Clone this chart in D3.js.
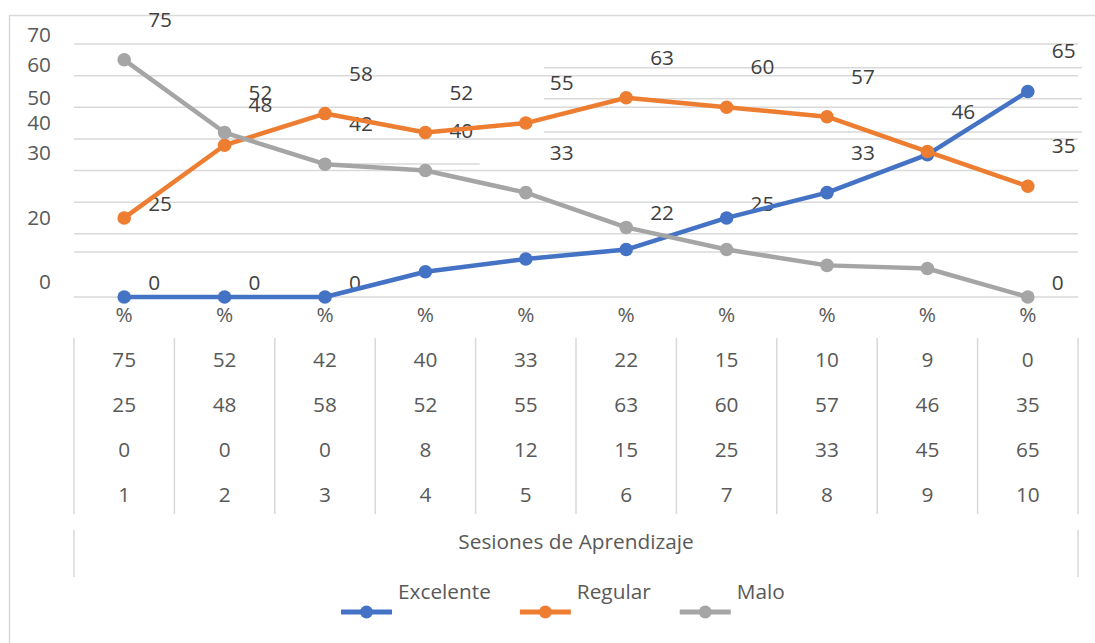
<!DOCTYPE html>
<html>
<head>
<meta charset="utf-8">
<script src="https://cdn.jsdelivr.net/npm/d3@7"></script>
<style>
  html, body { margin: 0; padding: 0; background: #fff; }
  svg { display: block; font-family: "Open Sans", "DejaVu Sans", sans-serif; }
</style>
</head>
<body>
<svg id="chart" width="1095" height="643"></svg>
<script>
// ---------- data ----------
const sessions = [1, 2, 3, 4, 5, 6, 7, 8, 9, 10];
const excelente = [0, 0, 0, 8, 12, 15, 25, 33, 45, 65];
const regular = [25, 48, 58, 52, 55, 63, 60, 57, 46, 35];
const malo = [75, 52, 42, 40, 33, 22, 15, 10, 9, 0];
const seriesNames = ["Excelente", "Regular", "Malo"];
const seriesColors = ["#4472C4", "#ED7D31", "#A5A5A5"];
// labels that the original render does not show (indices)
const hiddenExcelente = [3, 4, 5, 8];
const hiddenRegular = [];
const hiddenMalo = [6, 7, 8];
// value-axis labels as they appear (displaced) in the original
const yTickLabels = ["70", "60", "50", "40", "30", "20", "0"];
const yTickShownAt = [82.8, 73.4, 62.9, 55, 45.5, 25, 4.7];
// horizontal gridlines (value units)
const gridValues = [0, 14.2, 20, 30, 40, 50, 60, 70, 80];
// partial gridline fragments of the original render: value, from category, to category
const gridFragValues = [72.5, 62.7, 52.2, 42.05];
const gridFragFrom = [5.18, 5.18, 5.18, 3.06];
const gridFragTo = [10.54, 10.54, 10.54, 4.54];
const axisTitle = "Sesiones de Aprendizaje";
const catSuffix = "%";

// ---------- layout ----------
const svg = d3.select("#chart");
const W = 1095, H = 643;
const plotL = 74, plotR = 1078, plotTop = 44, plotBottom = 297;
const textCol = "#595959", labelCol = "#404040", gridCol = "#d9d9d9";
const fs = 20.8;

svg.append("rect").attr("width", W).attr("height", H).attr("fill", "#fff");
// chart border
svg.append("path").attr("d", `M9.5,${H} V15.5 H${W}`)
  .attr("fill", "none").attr("stroke", gridCol).attr("stroke-width", 1.5);

const x = d3.scaleBand().domain(sessions).range([plotL, plotR]);
const cx = d => x(d) + x.bandwidth() / 2;
const xc = d3.scaleLinear().domain([0.5, 10.5]).range([plotL, plotR]);
const y = d3.scaleLinear().domain([0, 80]).range([plotBottom, plotTop]);

// gridlines
svg.append("g").selectAll("line").data(gridValues).join("line")
  .attr("x1", plotL).attr("x2", plotR)
  .attr("y1", d => y(d)).attr("y2", d => y(d))
  .attr("stroke", gridCol).attr("stroke-width", 1.5);
svg.append("g").selectAll("line").data(gridFragValues).join("line")
  .attr("x1", (d, i) => xc(gridFragFrom[i])).attr("x2", (d, i) => xc(gridFragTo[i]))
  .attr("y1", d => y(d)).attr("y2", d => y(d))
  .attr("stroke", gridCol).attr("stroke-width", 1.5);

// value axis labels
svg.append("g").selectAll("text").data(yTickLabels).join("text")
  .attr("x", 51).attr("y", (d, i) => y(yTickShownAt[i]) + 7)
  .attr("text-anchor", "end").attr("font-size", fs).attr("fill", textCol)
  .text(d => d);

// data labels (drawn under the lines)
const seriesData = [excelente, regular, malo];
const hidden = [hiddenExcelente, hiddenRegular, hiddenMalo];
const lift = v => (v < 28 ? 14 : 40);
const labelLayer = svg.append("g");
[2, 1, 0].forEach(s => {
  const vals = seriesData[s];
  labelLayer.append("g").selectAll("text")
    .data(sessions.map((c, i) => ({ c, v: vals[i], i })).filter(d => !hidden[s].includes(d.i)))
    .join("text")
    .attr("x", d => cx(d.c) + 24)
    .attr("y", d => y(d.v) - lift(d.v) + 7)
    .attr("font-size", fs).attr("fill", labelCol)
    .text(d => d.v);
});

// lines + markers
const line = d3.line().x(d => cx(d.c)).y(d => y(d.v));
seriesData.forEach((vals, s) => {
  const pts = sessions.map((c, i) => ({ c, v: vals[i] }));
  const g = svg.append("g");
  g.append("path").datum(pts).attr("d", line)
    .attr("fill", "none").attr("stroke", seriesColors[s])
    .attr("stroke-width", 4.5).attr("stroke-linejoin", "round").attr("stroke-linecap", "round");
  g.selectAll("circle").data(pts).join("circle")
    .attr("cx", d => cx(d.c)).attr("cy", d => y(d.v)).attr("r", 6.8)
    .attr("fill", seriesColors[s]);
});

// category "%" labels
svg.append("g").selectAll("text").data(sessions).join("text")
  .attr("x", d => cx(d)).attr("y", 322)
  .attr("text-anchor", "middle").attr("font-size", fs).attr("fill", textCol)
  .text(catSuffix);

// data table under the axis
const tableRows = [malo, regular, excelente, sessions];
const rowCenters = [360, 405, 450, 495];
const tbl = svg.append("g");
const bounds = sessions.map(d => x(d)).concat([x(sessions[sessions.length - 1]) + x.bandwidth()]);
tbl.selectAll("line").data(bounds).join("line")
  .attr("x1", d => d).attr("x2", d => d).attr("y1", 338).attr("y2", 514)
  .attr("stroke", gridCol).attr("stroke-width", 1.5);
tableRows.forEach((row, r) => {
  tbl.append("g").selectAll("text").data(sessions).join("text")
    .attr("x", d => cx(d)).attr("y", rowCenters[r] + 7)
    .attr("text-anchor", "middle").attr("font-size", fs).attr("fill", textCol)
    .text((d, i) => row[i]);
});

// axis title box
svg.append("g").selectAll("line").data([plotL, plotR]).join("line")
  .attr("x1", d => d).attr("x2", d => d).attr("y1", 530).attr("y2", 577)
  .attr("stroke", gridCol).attr("stroke-width", 1.5);
svg.append("text").attr("x", (plotL + plotR) / 2).attr("y", 549)
  .attr("text-anchor", "middle").attr("font-size", fs).attr("fill", textCol)
  .text(axisTitle);

// legend
const leg = svg.append("g");
let lx = 341;
seriesNames.forEach((name, s) => {
  const g = leg.append("g");
  g.append("line").attr("x1", lx).attr("x2", lx + 51).attr("y1", 612).attr("y2", 612)
    .attr("stroke", seriesColors[s]).attr("stroke-width", 5);
  g.append("circle").attr("cx", lx + 25.5).attr("cy", 612).attr("r", 6.5).attr("fill", seriesColors[s]);
  const t = g.append("text").attr("x", lx + 57).attr("y", 599)
    .attr("font-size", fs).attr("fill", textCol).text(name);
  lx = lx + 57 + t.node().getComputedTextLength() + 29;
});
</script>
</body>
</html>
